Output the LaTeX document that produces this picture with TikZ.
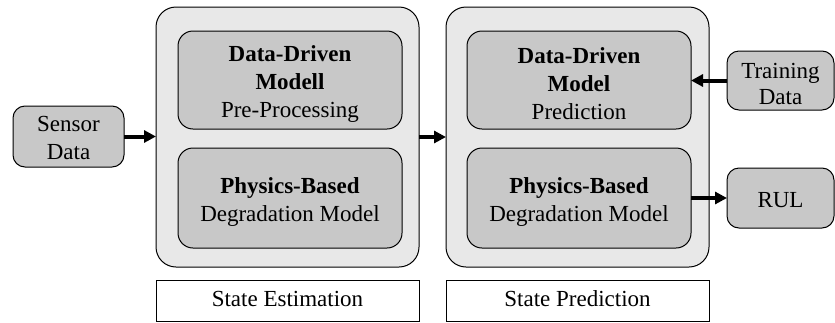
\documentclass[tikz,border=0pt]{standalone}
\usepackage{fontspec}
\setmainfont{Liberation Serif}
\usetikzlibrary{arrows.meta}
\definecolor{outerfill}{HTML}{E8E8E8}
\definecolor{innerfill}{HTML}{C8C8C8}
\tikzset{
  base/.style={draw, line width=1pt, inner sep=0pt, outer sep=0pt},
  txt/.style={inner sep=0pt, align=center, font=\fontsize{23}{28}\selectfont},
  outerbox/.style={base, fill=outerfill, rounded corners=20pt},
  innerbox/.style={base, fill=innerfill, rounded corners=15pt},
  sidebox/.style={base, fill=innerfill, rounded corners=12pt},
  labelbox/.style={base, fill=white},
  conn/.style={line width=4pt, -{Triangle[length=12pt,width=12pt]}}
}
\begin{document}
\begin{tikzpicture}[x=1pt,y=-1pt]
\useasboundingbox (0,0) rectangle (835,322);
\node[sidebox, minimum width=111pt, minimum height=61pt] (sensor) at (68.5,136.5) {};
\node[txt] (sensort) at ([yshift=-1pt]sensor.center) {Sensor\\Data};
\node[outerbox, minimum width=263pt, minimum height=260pt] (est) at (287.5,137) {};
\node[innerbox, minimum width=224pt, minimum height=98pt] (dd1) at (290,80) {};
\node[txt] (dd1t) at ([yshift=-4pt]dd1.center) {\textbf{Data-Driven}\\\textbf{Modell}\\Pre-Processing};
\node[innerbox, minimum width=224pt, minimum height=100pt] (pb1) at (290,198) {};
\node[txt] (pb1t) at ([yshift=-4pt]pb1.center) {\textbf{Physics-Based}\\Degradation Model};
\node[labelbox, minimum width=263pt, minimum height=41pt] (lab1) at (287.5,300.5) {};
\node[txt] (lab1t) at ([yshift=2pt]lab1.center) {State Estimation};
\node[outerbox, minimum width=263pt, minimum height=260pt] (pred) at (577.5,137) {};
\node[innerbox, minimum width=224pt, minimum height=98pt] (dd2) at (579,80) {};
\node[txt] (dd2t) at ([yshift=-4pt]dd2.center) {\textbf{Data-Driven}\\\textbf{Model}\\Prediction};
\node[innerbox, minimum width=224pt, minimum height=100pt] (pb2) at (579,198) {};
\node[txt] (pb2t) at ([yshift=-4pt]pb2.center) {\textbf{Physics-Based}\\Degradation Model};
\node[labelbox, minimum width=263pt, minimum height=41pt] (lab2) at (577.5,300.5) {};
\node[txt] (lab2t) at ([yshift=2pt]lab2.center) {State Prediction};
\node[sidebox, minimum width=107pt, minimum height=59pt] (train) at (780.5,80.5) {};
\node[txt, font=\fontsize{23}{26}\selectfont] (traint) at ([yshift=-3pt]train.center) {Training\\Data};
\node[sidebox, minimum width=107pt, minimum height=60pt] (rul) at (780.5,198) {};
\node[txt] (rult) at ([yshift=-2pt]rul.center) {RUL};
\draw[conn] (sensor.east) -- (sensor.east -| est.west);
\draw[conn] (est.east) -- (est.east -| pred.west);
\draw[conn] (train.west) -- (train.west -| dd2.east);
\draw[conn] (pb2.east) -- (pb2.east -| rul.west);
\end{tikzpicture}
\end{document}
